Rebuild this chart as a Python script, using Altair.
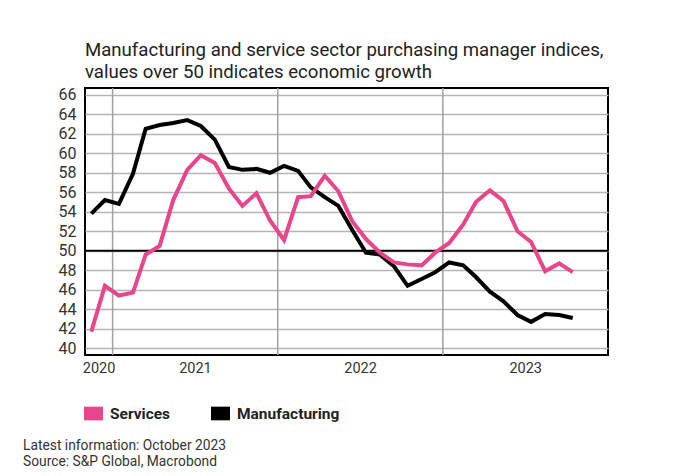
import altair as alt
import pandas as pd

# ---- data ----
months = [str(p) for p in pd.period_range("2020-11", "2023-10", freq="M")]
services = [41.7, 46.4, 45.4, 45.7, 49.6, 50.5, 55.2, 58.3, 59.8, 59.0, 56.4, 54.6,
            55.9, 53.1, 51.1, 55.5, 55.6, 57.7, 56.1, 53.0, 51.2, 49.8, 48.8, 48.6,
            48.5, 49.8, 50.8, 52.7, 55.0, 56.2, 55.1, 52.0, 50.9, 47.9, 48.7, 47.8]
manufacturing = [53.8, 55.2, 54.8, 57.9, 62.5, 62.9, 63.1, 63.4, 62.8, 61.4, 58.6, 58.3,
                 58.4, 58.0, 58.7, 58.2, 56.5, 55.5, 54.6, 52.1, 49.8, 49.6, 48.4, 46.4,
                 47.1, 47.8, 48.8, 48.5, 47.3, 45.8, 44.8, 43.4, 42.7, 43.5, 43.4, 43.1]
series_names = ["Services", "Manufacturing"]
series_colors = ["#e8458b", "#000000"]
year_starts = ["2021-01-01", "2022-01-01", "2023-01-01"]
y_ticks = [40, 42, 44, 46, 48, 50, 52, 54, 56, 58, 60, 62, 64, 66]
threshold = 50
title_lines = ["Manufacturing and service sector purchasing manager indices,",
               "values over 50 indicates economic growth"]
footer_lines = ["Latest information: October 2023", "Source: S&P Global, Macrobond"]

dates = [m + "-15" for m in months]
df = pd.DataFrame({"date": dates, "Services": services, "Manufacturing": manufacturing})
years_df = pd.DataFrame({"date": year_starts})
legend_df = pd.DataFrame({"series": series_names})

FONT = "Roboto"

x_scale = alt.Scale(type="utc",
                    domain=[alt.DateTime(year=2020, month=11, date=1, utc=True),
                            alt.DateTime(year=2024, month=1, date=1, utc=True)])
y_scale = alt.Scale(domain=[39.3, 66.7], nice=False, zero=False)

x_axis = alt.Axis(title=None, grid=False, ticks=False, domain=False,
                  values=[alt.DateTime(year=2020, month=12, date=1, utc=True),
                          alt.DateTime(year=2021, month=7, date=2, utc=True),
                          alt.DateTime(year=2022, month=7, date=2, utc=True),
                          alt.DateTime(year=2023, month=7, date=2, utc=True)],
                  labelExpr="utcFormat(datum.value, '%Y')",
                  labelFont=FONT, labelFontSize=14.5, labelColor="#333333",
                  labelPadding=6, labelFlush=False, labelOverlap=False)
y_axis = alt.Axis(title=None, values=y_ticks, ticks=False, domain=False,
                  grid=True, gridColor="#b4b4b4", gridWidth=1.5,
                  labelFont=FONT, labelFontSize=16, labelColor="#333333",
                  labelPadding=9)

base = alt.Chart(df)

vgrid = alt.Chart(years_df).mark_rule(color="#a0a0a0", strokeWidth=1.5).encode(
    x=alt.X("date:T", scale=x_scale, axis=x_axis))

line50 = alt.Chart(pd.DataFrame({"v": [threshold]})).mark_rule(
    color="#000000", strokeWidth=2).encode(
    y=alt.Y("v:Q", scale=y_scale, axis=y_axis))

manuf = base.mark_line(color=series_colors[1], strokeWidth=4).encode(
    x=alt.X("date:T", scale=x_scale, axis=x_axis),
    y=alt.Y("Manufacturing:Q", scale=y_scale, axis=y_axis))

serv = base.mark_line(color=series_colors[0], strokeWidth=4).encode(
    x=alt.X("date:T", scale=x_scale, axis=x_axis),
    y=alt.Y("Services:Q", scale=y_scale, axis=y_axis))

legend_layer = alt.Chart(legend_df).transform_filter("false").mark_point(
    filled=True, shape="square").encode(
    fill=alt.Fill("series:N",
                  scale=alt.Scale(domain=series_names, range=series_colors),
                  legend=alt.Legend(title=None, orient="none", legendX=-1, legendY=316,
                                    direction="horizontal",
                                    symbolType="M-1,-0.72H1V0.72H-1Z", symbolSize=361,
                                    symbolStrokeWidth=0, symbolOpacity=1,
                                    labelFont=FONT, labelFontSize=15.5,
                                    labelFontWeight="bold", labelColor="#222222",
                                    labelOffset=7, columnPadding=40, padding=0)))

foot1 = alt.Chart(pd.DataFrame({"t": [footer_lines[0]]})).mark_text(
    align="left", baseline="alphabetic", font=FONT, fontSize=13.8, color="#333333").encode(
    x=alt.value(-62), y=alt.value(362), text="t:N")
foot2 = alt.Chart(pd.DataFrame({"t": [footer_lines[1]]})).mark_text(
    align="left", baseline="alphabetic", font=FONT, fontSize=13.8, color="#333333").encode(
    x=alt.value(-62), y=alt.value(378), text="t:N")

chart = alt.layer(vgrid, line50, manuf, serv, legend_layer, foot1, foot2).properties(
    width=523, height=267,
    autosize=alt.AutoSizeParams(type="none"),
    padding={"left": 77, "top": 80, "right": 58, "bottom": 113},
    background="white",
    title=alt.TitleParams(text=title_lines, anchor="start", frame="group",
                          font=FONT, fontSize=18.6, fontWeight="normal",
                          color="#222222", lineHeight=22, offset=5),
).configure_view(stroke="#000000", strokeWidth=2)

chart.save("out.html", embed_options={"renderer": "svg", "actions": False})
